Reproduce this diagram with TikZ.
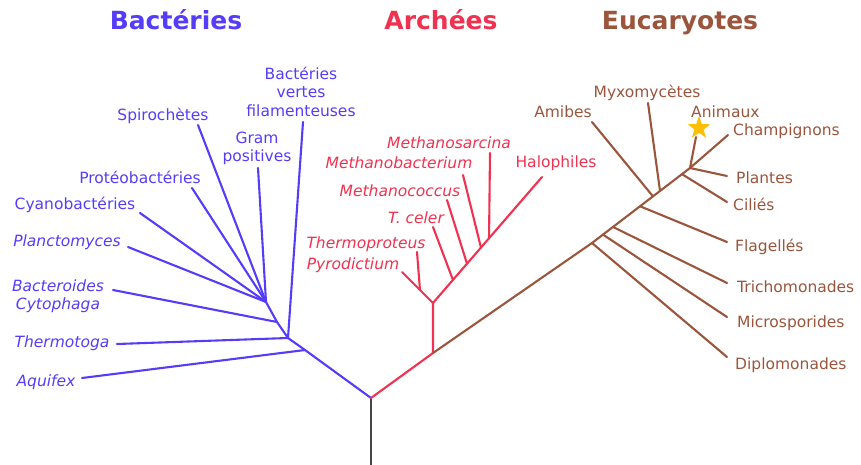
\documentclass[tikz,border=0pt]{standalone}
\usepackage{fontspec}
\setmainfont{DejaVu Sans}
\usepackage{xcolor}
\definecolor{vidablue}{RGB}{85, 60, 250}
\definecolor{vidared}{RGB}{240, 50, 80}
\definecolor{vidabrown}{RGB}{155, 85, 60}
\definecolor{vidagold}{RGB}{255, 190, 0}
\definecolor{vidagray}{RGB}{70, 70, 70}
\usetikzlibrary{calc, shapes.geometric}

\begin{document}
\begin{tikzpicture}[x=1pt, y=-1pt,
    rama/.style={line width=2.1pt, line cap=round, line join=round},
    taxon/.style={font=\fontsize{15.5}{18.5}\selectfont, inner sep=0pt, align=center},
    dominio/.style={font=\fontsize{25}{30}\selectfont\bfseries, inner sep=0pt, anchor=base}]

\useasboundingbox (0,0) rectangle (861,465);

% === Titulos de los dominios ===
\node[dominio, text=vidablue] (tBact) at (176,30) {Bactéries};
\node[dominio, text=vidared] (tArch) at (441,30) {Archées};
\node[dominio, text=vidabrown] (tEuca) at (680,30) {Eucaryotes};

% === Raiz ===
\coordinate (raiz) at (371,398);
\coordinate (base) at (371,465);
\draw[rama, vidagray, line cap=butt] (raiz) -- (base);

% === Bacterias ===
\coordinate (b1) at (305,350);
\coordinate (b2) at (288,338);
\coordinate (b3) at (277,322);
\coordinate (b4) at (266,302);
\draw[rama, vidablue] (raiz) -- (b1) -- (b2) -- (b3) -- (b4);

% Extremos de las ramas
\coordinate (eAqui) at (82,378);
\coordinate (eTherm) at (117,344);
\coordinate (eFila) at (303,122);
\coordinate (eBact) at (113,290);
\coordinate (eGram) at (258,168);
\coordinate (eSpiro) at (198,125);
\coordinate (eProt) at (192,188);
\coordinate (eCyan) at (140,213);
\coordinate (ePlan) at (128,247);

\draw[rama, vidablue] (b1) -- (eAqui);
\draw[rama, vidablue] (b2) -- (eTherm);
\draw[rama, vidablue] (b2) -- (eFila);
\draw[rama, vidablue] (b3) -- (eBact);
\foreach \e in {eGram, eSpiro, eProt, eCyan, ePlan}
    \draw[rama, vidablue] (b4) -- (\e);

\node[taxon, text=vidablue] (lFila) at (301,91.5) {Bactéries\\vertes\\filamenteuses};
\node[taxon, text=vidablue] (lGram) at (257,148.5) {Gram\\positives};
\node[taxon, text=vidablue] (lSpiro) at (163,116) {Spirochètes};
\node[taxon, text=vidablue] (lProt) at (140,177) {Protéobactéries};
\node[taxon, text=vidablue] (lCyan) at (75,205) {Cyanobactéries};
\node[taxon, text=vidablue] (lPlan) at (67,242) {\itshape Planctomyces};
\node[taxon, text=vidablue] (lBact) at (58,296) {\itshape Bacteroides\\\itshape Cytophaga};
\node[taxon, text=vidablue] (lTherm) at (62,343) {\itshape Thermotoga};
\node[taxon, text=vidablue] (lAqui) at (46,382) {\itshape Aquifex};

% === Arqueas ===
\coordinate (a0) at (433,353);
\coordinate (a1) at (433,303);
\coordinate (aHalo) at (542,177);
\coordinate (aPyro) at (402,272);
\draw[rama, vidared] (raiz) -- (a0) -- (a1);
\draw[rama, vidared] (a1) -- (aHalo);
\draw[rama, vidared] (a1) -- (aPyro);

% Nudos sobre las ramas
\coordinate (aThpr) at ($(a1)!0.42!(aPyro)$);
\coordinate (aTcel) at ($(a1)!0.183!(aHalo)$);
\coordinate (aMcoc) at ($(a1)!0.312!(aHalo)$);
\coordinate (aMbac) at ($(a1)!0.44!(aHalo)$);
\coordinate (aMsar) at ($(a1)!0.514!(aHalo)$);

\coordinate (eThpr) at (417,252);
\coordinate (eTcel) at (433,227);
\coordinate (eMcoc) at (447,200);
\coordinate (eMbac) at (463,175);
\coordinate (eMsar) at (490,153);

\foreach \n in {Thpr, Tcel, Mcoc, Mbac, Msar}
    \draw[rama, vidared] (a\n) -- (e\n);

\node[taxon, text=vidared] (lMsar) at (449,143) {\itshape Methanosarcina};
\node[taxon, text=vidared] (lMbac) at (399,163) {\itshape Methanobacterium};
\node[taxon, text=vidared] (lMcoc) at (400,191) {\itshape Methanococcus};
\node[taxon, text=vidared] (lTcel) at (416,218) {\itshape T. celer};
\node[taxon, text=vidared] (lThpr) at (366,244) {\itshape Thermoproteus};
\node[taxon, text=vidared] (lPyro) at (353,265) {\itshape Pyrodictium};
\node[taxon, text=vidared] (lHalo) at (556,163) {Halophiles};

% === Eucariotas ===
\coordinate (ed) at (592,243);
\coordinate (ec) at (690,168);
\draw[rama, vidabrown] (a0) -- (ed) -- (ec);

% Nudos sobre el tronco
\coordinate (jMicr) at ($(ed)!0.112!(ec)$);
\coordinate (jTric) at ($(ed)!0.214!(ec)$);
\coordinate (jFlag) at ($(ed)!0.49!(ec)$);
\coordinate (jAmib) at ($(ed)!0.622!(ec)$);
\coordinate (jMyxo) at ($(ed)!0.694!(ec)$);
\coordinate (jCili) at ($(ed)!0.918!(ec)$);

\coordinate (dDipl) at (727,357);
\coordinate (dMicr) at (727,317);
\coordinate (dTric) at (727,283);
\coordinate (dFlag) at (727,242);
\coordinate (dAmib) at (592,122);
\coordinate (dMyxo) at (648,103);
\coordinate (dCili) at (727,202);
\coordinate (dPlan) at (727,176);
\coordinate (dCham) at (728,135);
\coordinate (dAnim) at (696,137);

\draw[rama, vidabrown] (ed) -- (dDipl);
\foreach \n in {Micr, Tric, Flag, Amib, Myxo, Cili}
    \draw[rama, vidabrown] (j\n) -- (d\n);
\foreach \n in {Plan, Cham, Anim}
    \draw[rama, vidabrown] (ec) -- (d\n);

% Estrella sobre los animales
\node[star, star points=5, star point ratio=2.5, fill=vidagold,
    minimum size=24pt, inner sep=0pt] (estrella) at (699,128) {};

\node[taxon, text=vidabrown] (lAmib) at (563,112) {Amibes};
\node[taxon, text=vidabrown] (lMyxo) at (647,93) {Myxomycètes};
\node[taxon, text=vidabrown, anchor=west] (lAnim) at (691,112) {Animaux};
\node[taxon, text=vidabrown, anchor=west] (lCham) at (733,131) {Champignons};
\node[taxon, text=vidabrown, anchor=west] (lPlan) at (736,178) {Plantes};
\node[taxon, text=vidabrown, anchor=west] (lCili) at (733,204) {Ciliés};
\node[taxon, text=vidabrown, anchor=west] (lFlag) at (735,247) {Flagellés};
\node[taxon, text=vidabrown, anchor=west] (lTric) at (737,287) {Trichomonades};
\node[taxon, text=vidabrown, anchor=west] (lMicr) at (737,323) {Microsporides};
\node[taxon, text=vidabrown, anchor=west] (lDipl) at (735,365) {Diplomonades};

\end{tikzpicture}
\end{document}
